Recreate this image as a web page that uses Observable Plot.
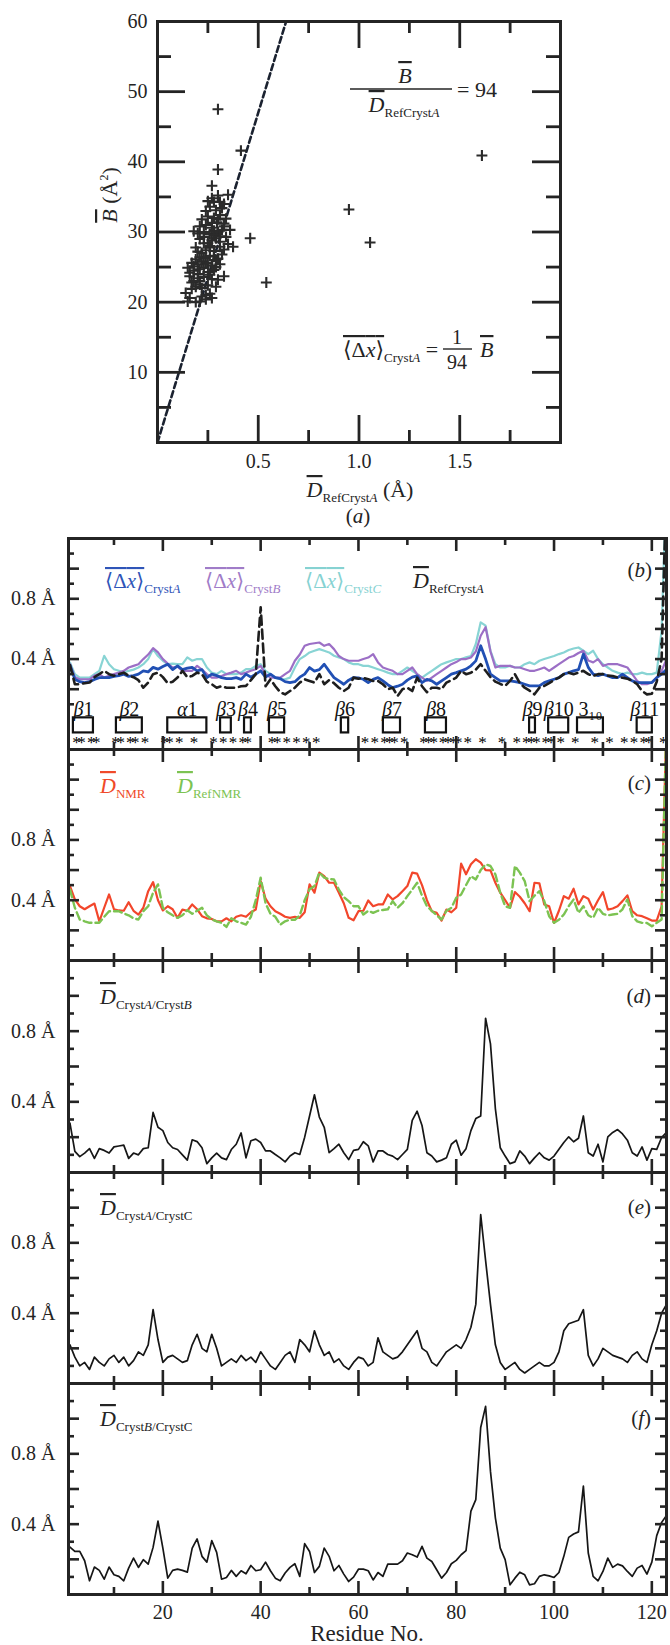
<!DOCTYPE html>
<html><head><meta charset="utf-8">
<script src="https://cdn.jsdelivr.net/npm/d3@7"></script>
<script src="https://cdn.jsdelivr.net/npm/@observablehq/plot@0.6"></script>
<style>
body{margin:0;background:#fff;}
#root{position:relative;width:670px;height:1645px;overflow:hidden;background:#fff;font-family:"Liberation Serif","DejaVu Serif",serif;}
#root svg, #root svg text{font-family:"Liberation Serif","DejaVu Serif",serif;}
</style>
</head><body><div id="root"></div>
<script>
// ---------------- DATA ----------------
// Panel (a): per-residue D_RefCrystA (Å) vs B (Å^2)
const dRefCrystA = [0.15,0.14,0.16,0.19,0.21,0.22,0.24,0.26,0.27,0.19,0.17,0.21,0.25,0.16,0.21,0.23,0.27,0.30,0.33,0.16,
0.18,0.20,0.23,0.25,0.28,0.18,0.20,0.22,0.24,0.25,0.27,0.29,0.31,0.15,0.17,0.19,0.21,0.23,0.26,0.28,
0.30,0.20,0.22,0.24,0.26,0.28,0.31,0.33,0.375,0.23,0.25,0.27,0.29,0.31,0.34,0.21,0.18,0.20,0.23,0.26,
0.28,0.30,0.32,0.36,0.21,0.24,0.27,0.295,0.33,0.22,0.25,0.28,0.31,0.34,0.26,0.29,0.32,0.24,0.28,0.31,
0.35,0.27,0.30,0.33,0.27,0.30,0.414,0.30,0.46,0.54,0.95,1.055,1.61,0.22,0.26,0.29,0.17,0.24,0.32,0.35,
0.19,0.23,0.27,0.30,0.25,0.29,0.21,0.26,0.28,0.33,0.20,0.18,0.31];
const bFactor = [20.1,21.3,20.6,20.0,20.1,20.8,21.0,21.2,20.6,22.2,22.8,22.5,22.4,23.7,23.0,23.6,23.3,23.2,23.7,24.2,
24.5,24.0,24.9,24.3,24.6,25.1,25.4,25.8,25.5,25.6,25.2,25.0,25.4,24.9,25.6,26.1,26.4,26.3,26.6,26.5,
26.2,27.2,27.0,27.4,27.8,27.3,27.9,27.5,27.9,28.4,28.4,28.8,29.1,28.6,29.3,29.0,30.1,29.8,30.0,29.7,
30.2,30.0,30.3,30.3,30.8,31.0,31.3,31.4,31.2,31.8,32.2,32.0,32.4,31.9,33.6,33.1,33.4,33.0,34.3,34.3,
35.3,34.8,35.2,34.0,36.6,38.9,41.6,47.5,29.1,22.8,33.2,28.5,40.9,22.0,23.9,22.2,21.9,20.4,26.8,28.3,
27.8,29.3,30.6,31.8,34.4,26.0,24.7,28.0,29.6,30.8,23.4,23.0,29.4];
const ratioBoverD = 94;

// Panels (b)-(f): residue numbers 1..123
const residues = d3.range(1, 124);

// (b)
const dxCrystA = [0.36,0.266,0.25,0.244,0.25,0.265,0.277,0.277,0.277,0.285,
0.29,0.30,0.285,0.29,0.30,0.322,0.315,0.345,0.333,0.35,
0.366,0.33,0.355,0.33,0.34,0.345,0.322,0.33,0.277,0.30,
0.29,0.277,0.27,0.27,0.277,0.265,0.30,0.28,0.30,0.322,
0.28,0.30,0.277,0.27,0.25,0.244,0.25,0.28,0.30,0.344,
0.32,0.33,0.366,0.32,0.277,0.255,0.233,0.26,0.277,0.275,
0.266,0.244,0.265,0.277,0.255,0.23,0.21,0.22,0.233,0.26,
0.28,0.288,0.244,0.265,0.255,0.233,0.255,0.277,0.30,0.31,
0.322,0.333,0.355,0.388,0.488,0.40,0.30,0.277,0.255,0.255,
0.255,0.25,0.244,0.233,0.222,0.222,0.222,0.244,0.255,0.266,
0.277,0.30,0.31,0.322,0.33,0.433,0.345,0.30,0.29,0.30,
0.288,0.277,0.277,0.30,0.277,0.255,0.244,0.244,0.244,0.244,
0.277,0.30,0.33];
const dxCrystB = [0.366,0.28,0.266,0.266,0.266,0.29,0.30,0.277,0.29,0.30,
0.31,0.322,0.344,0.355,0.366,0.40,0.43,0.473,0.444,0.40,
0.37,0.344,0.35,0.322,0.322,0.322,0.355,0.33,0.30,0.277,
0.277,0.288,0.30,0.31,0.322,0.30,0.31,0.322,0.333,0.355,
0.30,0.277,0.277,0.277,0.30,0.322,0.389,0.43,0.488,0.50,
0.505,0.51,0.488,0.50,0.466,0.42,0.40,0.389,0.389,0.389,
0.40,0.41,0.433,0.378,0.344,0.333,0.322,0.30,0.30,0.322,
0.344,0.30,0.277,0.255,0.277,0.30,0.322,0.344,0.366,0.38,
0.40,0.40,0.41,0.45,0.555,0.611,0.45,0.344,0.355,0.355,
0.355,0.344,0.344,0.333,0.322,0.322,0.333,0.344,0.322,0.344,
0.366,0.388,0.41,0.42,0.44,0.455,0.39,0.378,0.40,0.355,
0.366,0.366,0.366,0.355,0.344,0.30,0.255,0.233,0.233,0.244,
0.277,0.322,0.40];
const dxCrystC = [0.377,0.30,0.277,0.277,0.277,0.30,0.322,0.422,0.366,0.333,
0.322,0.31,0.322,0.33,0.344,0.366,0.40,0.466,0.42,0.389,
0.366,0.37,0.366,0.366,0.411,0.389,0.40,0.40,0.344,0.31,
0.30,0.322,0.30,0.30,0.30,0.31,0.333,0.333,0.355,0.366,
0.322,0.30,0.277,0.266,0.266,0.277,0.344,0.40,0.42,0.444,
0.455,0.466,0.455,0.444,0.422,0.41,0.40,0.378,0.366,0.366,
0.355,0.355,0.344,0.333,0.322,0.31,0.30,0.30,0.322,0.344,
0.322,0.30,0.277,0.30,0.322,0.344,0.366,0.378,0.389,0.40,
0.40,0.411,0.42,0.50,0.644,0.622,0.455,0.366,0.344,0.344,
0.355,0.344,0.344,0.366,0.378,0.366,0.389,0.40,0.41,0.42,
0.433,0.444,0.46,0.47,0.477,0.455,0.433,0.455,0.40,0.366,
0.344,0.322,0.31,0.30,0.31,0.30,0.30,0.31,0.30,0.30,
0.31,0.588,1.6];
const dRefCrystAres = [0.36,0.233,0.233,0.24,0.244,0.28,0.30,0.322,0.30,0.29,
0.30,0.31,0.29,0.28,0.26,0.21,0.244,0.30,0.31,0.28,
0.24,0.25,0.277,0.322,0.28,0.288,0.31,0.30,0.25,0.233,
0.21,0.22,0.21,0.21,0.21,0.22,0.222,0.26,0.30,0.744,
0.22,0.266,0.22,0.18,0.166,0.188,0.21,0.244,0.266,0.255,
0.244,0.30,0.233,0.26,0.24,0.21,0.188,0.21,0.277,0.27,
0.275,0.266,0.255,0.255,0.233,0.20,0.21,0.155,0.20,0.21,
0.188,0.277,0.22,0.18,0.21,0.21,0.20,0.244,0.26,0.277,
0.322,0.30,0.31,0.33,0.366,0.322,0.28,0.25,0.235,0.222,
0.255,0.30,0.24,0.21,0.19,0.166,0.21,0.222,0.24,0.26,
0.277,0.30,0.31,0.30,0.31,0.322,0.30,0.288,0.30,0.30,
0.29,0.288,0.277,0.277,0.27,0.255,0.233,0.188,0.166,0.17,
0.25,0.40,1.61];
// secondary structure (residue ranges) and asterisk-marked residues
const ssNames = ["β1","β2","α1","β3","β4","β5","β6","β7","β8","β9","β10","3₁₀","β11"];
const ssStart = [1.7,10.5,21,31.8,36.7,41.8,56.5,65.1,73.7,95,98.9,104.8,117];
const ssEnd   = [5.8,15.8,29,34,38.1,44.9,58,68.6,78,96.2,103,110.1,120.1];
const starResidues = [2,3,5,6,10,11,13,14,16,20,21,23,26,30,32,34,36,37,42,43,45,47,49,51,
61,63,65,66,67,69,73,74,75,77,78,79,80,82,85,89,92,94,95,96,98,99,101,104,108,111,114,116,118,119,122];

// (c)
const dNMR = [0.494,0.405,0.36,0.34,0.36,0.378,0.26,0.35,0.438,0.34,
0.332,0.33,0.387,0.33,0.305,0.35,0.46,0.52,0.40,0.332,
0.36,0.34,0.283,0.338,0.33,0.372,0.34,0.294,0.28,0.276,
0.26,0.26,0.28,0.26,0.29,0.30,0.29,0.32,0.338,0.527,
0.41,0.36,0.327,0.31,0.29,0.283,0.29,0.283,0.32,0.505,
0.45,0.583,0.56,0.516,0.516,0.45,0.38,0.283,0.267,0.327,
0.33,0.398,0.36,0.372,0.372,0.438,0.405,0.427,0.46,0.494,
0.583,0.576,0.50,0.40,0.327,0.316,0.265,0.338,0.32,0.35,
0.643,0.572,0.638,0.672,0.65,0.60,0.598,0.516,0.45,0.40,
0.35,0.454,0.423,0.38,0.327,0.516,0.512,0.372,0.36,0.249,
0.33,0.427,0.41,0.476,0.372,0.427,0.41,0.338,0.40,0.454,
0.338,0.345,0.36,0.394,0.432,0.327,0.30,0.294,0.28,0.265,
0.265,0.36,1.6];
const dRefNMR = [0.472,0.35,0.272,0.26,0.25,0.25,0.25,0.29,0.327,0.327,
0.327,0.312,0.30,0.28,0.272,0.327,0.36,0.45,0.505,0.35,
0.32,0.30,0.283,0.30,0.334,0.31,0.33,0.35,0.30,0.272,
0.26,0.25,0.223,0.28,0.26,0.25,0.238,0.29,0.40,0.55,
0.38,0.31,0.29,0.238,0.26,0.27,0.27,0.30,0.40,0.472,
0.494,0.583,0.55,0.54,0.538,0.47,0.42,0.394,0.36,0.36,
0.305,0.33,0.316,0.33,0.335,0.34,0.394,0.35,0.38,0.427,
0.47,0.516,0.43,0.36,0.33,0.30,0.272,0.33,0.35,0.416,
0.438,0.50,0.56,0.538,0.60,0.638,0.627,0.572,0.45,0.36,
0.35,0.627,0.583,0.527,0.394,0.43,0.46,0.394,0.294,0.25,
0.27,0.305,0.36,0.405,0.316,0.36,0.30,0.283,0.35,0.31,
0.30,0.305,0.31,0.34,0.405,0.294,0.26,0.25,0.249,0.227,
0.25,0.272,1.6];

// (d)
const dAB = [0.28,0.12,0.09,0.11,0.135,0.08,0.135,0.125,0.11,0.145,
0.15,0.155,0.08,0.11,0.10,0.135,0.14,0.34,0.256,0.237,
0.17,0.14,0.13,0.10,0.07,0.185,0.175,0.14,0.05,0.083,
0.11,0.083,0.073,0.13,0.16,0.224,0.083,0.18,0.189,0.17,
0.122,0.122,0.102,0.083,0.06,0.093,0.112,0.102,0.20,0.32,
0.44,0.314,0.256,0.112,0.135,0.16,0.112,0.073,0.125,0.131,
0.174,0.151,0.06,0.122,0.122,0.102,0.093,0.073,0.102,0.131,
0.295,0.347,0.266,0.112,0.093,0.06,0.07,0.083,0.16,0.183,
0.098,0.135,0.237,0.305,0.32,0.873,0.728,0.362,0.14,0.093,
0.05,0.06,0.122,0.093,0.05,0.083,0.112,0.083,0.07,0.093,
0.131,0.17,0.202,0.174,0.194,0.32,0.112,0.093,0.16,0.06,
0.202,0.227,0.243,0.218,0.183,0.112,0.093,0.145,0.07,0.135,
0.131,0.198,0.227];
// (e)
const dAC = [0.22,0.15,0.10,0.12,0.08,0.15,0.12,0.10,0.14,0.16,
0.12,0.15,0.10,0.13,0.18,0.16,0.22,0.42,0.25,0.12,
0.15,0.16,0.14,0.12,0.13,0.22,0.28,0.20,0.18,0.28,
0.20,0.10,0.12,0.14,0.12,0.16,0.13,0.15,0.12,0.18,
0.14,0.10,0.08,0.12,0.16,0.18,0.12,0.25,0.22,0.18,
0.30,0.22,0.16,0.18,0.12,0.14,0.10,0.08,0.12,0.15,
0.14,0.10,0.12,0.26,0.18,0.16,0.14,0.15,0.18,0.22,
0.26,0.30,0.20,0.18,0.12,0.10,0.14,0.18,0.20,0.22,
0.20,0.25,0.32,0.45,0.96,0.70,0.45,0.22,0.12,0.08,
0.10,0.12,0.08,0.06,0.08,0.10,0.12,0.10,0.10,0.12,
0.18,0.30,0.34,0.35,0.36,0.42,0.16,0.10,0.14,0.20,
0.18,0.16,0.15,0.14,0.12,0.16,0.18,0.14,0.12,0.22,
0.30,0.40,0.45];
// (f)
const dBC = [0.27,0.245,0.245,0.192,0.078,0.156,0.137,0.087,0.156,0.112,
0.103,0.078,0.15,0.207,0.154,0.198,0.173,0.268,0.417,0.264,
0.093,0.137,0.144,0.137,0.127,0.264,0.316,0.217,0.184,0.306,
0.24,0.087,0.097,0.137,0.103,0.135,0.118,0.165,0.135,0.141,
0.184,0.135,0.093,0.078,0.122,0.154,0.175,0.103,0.289,0.245,
0.125,0.16,0.264,0.217,0.135,0.165,0.116,0.074,0.099,0.144,
0.144,0.135,0.083,0.125,0.103,0.173,0.173,0.173,0.192,0.236,
0.226,0.213,0.274,0.207,0.188,0.141,0.093,0.125,0.175,0.194,
0.226,0.249,0.474,0.54,0.95,1.07,0.70,0.436,0.264,0.198,
0.055,0.093,0.127,0.112,0.055,0.061,0.103,0.112,0.106,0.097,
0.125,0.217,0.325,0.344,0.356,0.617,0.236,0.103,0.078,0.131,
0.207,0.154,0.173,0.163,0.131,0.103,0.15,0.165,0.116,0.184,
0.335,0.41,0.45];

// axis tick values
const aXLabels = [0.5, 1.0, 1.5], aXMinor = [0.25, 0.75, 1.25, 1.75];
const aYLabels = [10, 20, 30, 40, 50, 60], aYMajor = [10, 20, 30, 40, 50], aYMinor = [5, 15, 25, 35, 45, 55];
const xMajor = [20, 40, 60, 80, 100, 120], xMinor = [10, 30, 50, 70, 90, 110];
const yLabels = [0.4, 0.8];

// ---------------- DRAWING ----------------
const serif = "Liberation Serif, DejaVu Serif, serif";
const ink = "#242424";
const root = document.getElementById("root");
const C = {blue:"#2150b4", purple:"#9c6fc6", cyan:"#88d4d4", red:"#f2462b", green:"#7cc352",
           blueT:"#2f55b8", purpleT:"#a07cc8", cyanT:"#86d2d2", redT:"#f04a2a", greenT:"#7cc352"};

function mount(svg, top) {
  svg.style.position = "absolute";
  svg.style.left = "0px";
  svg.style.top = top + "px";
  svg.style.overflow = "visible";
  svg.style.background = "transparent";
  svg.style.fontFamily = serif;
  svg.style.fontSize = "20px";
  svg.style.color = ink;
  svg.style.maxWidth = "none";
  svg.setAttribute("font-family", serif);
  root.appendChild(svg);
}

// ---- Panel (a)
const aW = 670, aH = 530, aML = 157, aMR = 110, aMT = 21, aMB = 88;
const aPW = aW - aML - aMR, aPH = aH - aMT - aMB;
const scatter = dRefCrystA.map((x, i) => ({x, y: bFactor[i]}));
const fitLine = [0, 0.7].map(x => ({x, y: ratioBoverD * x}));
const tA = {stroke: ink, strokeWidth: 2.8};
const plotA = Plot.plot({
  width: aW, height: aH, marginLeft: aML, marginRight: aMR, marginTop: aMT, marginBottom: aMB,
  x: {domain: [0, 2]}, y: {domain: [0, 60]},
  marks: [
    Plot.line(fitLine, {x: "x", y: "y", stroke: "#1b2230", strokeWidth: 2.6, strokeDasharray: "6,3.5", clip: true}),
    Plot.dot(scatter, {x: "x", y: "y", symbol: "plus", r: 3.6, stroke: "#2b2b2b", strokeWidth: 2.1}),
    Plot.tickX(aXLabels, {x: Plot.identity, insetTop: aPH - 27, ...tA}),
    Plot.tickX(aXLabels, {x: Plot.identity, insetBottom: aPH - 27, ...tA}),
    Plot.tickX(aXMinor, {x: Plot.identity, insetTop: aPH - 12, ...tA}),
    Plot.tickX(aXMinor, {x: Plot.identity, insetBottom: aPH - 12, ...tA}),
    Plot.tickY(aYMajor, {y: Plot.identity, insetRight: aPW - 28, ...tA}),
    Plot.tickY(aYMajor, {y: Plot.identity, insetLeft: aPW - 28, ...tA}),
    Plot.tickY(aYMinor, {y: Plot.identity, insetRight: aPW - 14, ...tA}),
    Plot.tickY(aYMinor, {y: Plot.identity, insetLeft: aPW - 14, ...tA}),
    Plot.axisY({ticks: aYLabels, tickSize: 0, tickPadding: 10, fontSize: 20, label: null}),
    Plot.axisX({ticks: aXLabels, tickSize: 0, tickPadding: 11, fontSize: 20, label: null, tickFormat: d => d.toFixed(1)}),
    Plot.frame({stroke: ink, strokeWidth: 3})
  ]
});
mount(plotA, 0);

// ---- Panels (b)-(f)
const PML = 68, PMR = 4, X0 = 0.7, X1 = 123;
const PW = 670 - PML - PMR;
function panelTicks(yMaj, yMin, PH) {
  const o = {stroke: ink, strokeWidth: 2.6};
  return [
    Plot.tickX(xMajor, {x: Plot.identity, insetTop: PH - 13, ...o}),
    Plot.tickX(xMajor, {x: Plot.identity, insetBottom: PH - 13, ...o}),
    Plot.tickX(xMinor, {x: Plot.identity, insetTop: PH - 7, ...o}),
    Plot.tickX(xMinor, {x: Plot.identity, insetBottom: PH - 7, ...o}),
    Plot.tickY(yMaj, {y: Plot.identity, insetRight: PW - 11, ...o}),
    Plot.tickY(yMaj, {y: Plot.identity, insetLeft: PW - 11, ...o}),
    Plot.tickY(yMin, {y: Plot.identity, insetRight: PW - 6, ...o}),
    Plot.tickY(yMin, {y: Plot.identity, insetLeft: PW - 6, ...o})
  ];
}
const rows = vals => residues.map((r, i) => ({r, v: vals[i]}));
const sLine = (vals, o) => Plot.line(rows(vals), {x: "r", y: "v", clip: true, ...o});

function panelPlot({H, yDomain, yMaj, yMin, marks, bottom = 0, xAxis = false}) {
  return Plot.plot({
    width: 670, height: H + bottom, marginLeft: PML, marginRight: PMR, marginTop: 0, marginBottom: bottom,
    x: xAxis ? {domain: [X0, X1]} : {domain: [X0, X1], axis: null},
    y: {domain: yDomain},
    marks: [
      ...marks,
      ...panelTicks(yMaj, yMin, H),
      Plot.axisY({ticks: yLabels, tickSize: 0, tickPadding: 13, fontSize: 20, label: null, tickFormat: d => d.toFixed(1) + " Å"}),
      ...(xAxis ? [Plot.axisX({ticks: xMajor, tickSize: 0, tickPadding: 10, fontSize: 20, label: null})] : []),
      Plot.frame({stroke: ink, strokeWidth: 3})
    ]
  });
}

const ss = ssNames.map((name, i) => ({name, s: ssStart[i], e: ssEnd[i]}));
// consecutive starred residues are written as one run of asterisks
const starRuns = [];
for (const r of starResidues) {
  const last = starRuns[starRuns.length - 1];
  if (last && r === last.end + 1) last.end = r; else starRuns.push({start: r, end: r});
}
const plotB = panelPlot({
  H: 211, yDomain: [-0.2, 1.2], yMaj: [0.2, 0.4, 0.6, 0.8, 1.0], yMin: [0.1, 0.3, 0.5, 0.7, 0.9, 1.1],
  marks: [
    sLine(dxCrystC, {stroke: C.cyan, strokeWidth: 2.2}),
    sLine(dxCrystB, {stroke: C.purple, strokeWidth: 2.2}),
    sLine(dxCrystA, {stroke: C.blue, strokeWidth: 2.8}),
    sLine(dRefCrystAres, {stroke: "#1e1e1e", strokeWidth: 2.6, strokeDasharray: "9,5"}),
    Plot.rect(ss, {x1: "s", x2: "e", y1: () => -0.09, y2: () => 0.01, fill: "none", stroke: "#111", strokeWidth: 2.2}),
    Plot.text(ss, {x: d => (d.s + d.e) / 2, y: () => 0.02, text: "name", lineAnchor: "bottom", fontSize: 20, fill: "#111"}),
    Plot.text(starRuns, {x: d => (d.start + d.end) / 2, y: () => -0.155, text: d => "*".repeat(d.end - d.start + 1), fontSize: 17, fill: "#000"})
  ]
});
d3.select(plotB).selectAll("text").filter(function () { return /^\*+$/.test(this.textContent); })
  .attr("letter-spacing", "-3.4px");
// Greek letter of each secondary-structure label in italic, number upright
d3.select(plotB).selectAll("text").filter(function () { return /^[βα]\d+$/.test(this.textContent); })
  .each(function () {
    const s = this.textContent, el = d3.select(this);
    el.text(null);
    el.append("tspan").attr("font-style", "italic").text(s[0]);
    el.append("tspan").text(s.slice(1));
  });
mount(plotB, 538);

const plotC = panelPlot({
  H: 211, yDomain: [0, 1.4], yMaj: [0.2, 0.4, 0.6, 0.8, 1.0, 1.2], yMin: [0.1, 0.3, 0.5, 0.7, 0.9, 1.1, 1.3],
  marks: [
    sLine(dNMR, {stroke: C.red, strokeWidth: 2.2}),
    sLine(dRefNMR, {stroke: C.green, strokeWidth: 2.4, strokeDasharray: "8,4"})
  ]
});
mount(plotC, 749);

const yMaj12 = [0.2, 0.4, 0.6, 0.8, 1.0], yMin12 = [0.1, 0.3, 0.5, 0.7, 0.9, 1.1];
const plotD = panelPlot({H: 212, yDomain: [0, 1.2], yMaj: yMaj12, yMin: yMin12,
  marks: [sLine(dAB, {stroke: "#161616", strokeWidth: 1.7})]});
mount(plotD, 960);
const plotE = panelPlot({H: 211, yDomain: [0, 1.2], yMaj: yMaj12, yMin: yMin12,
  marks: [sLine(dAC, {stroke: "#161616", strokeWidth: 1.7})]});
mount(plotE, 1172);
const plotF = panelPlot({H: 211, yDomain: [0, 1.2], yMaj: yMaj12, yMin: yMin12, bottom: 51, xAxis: true,
  marks: [sLine(dBC, {stroke: "#161616", strokeWidth: 1.7})]});
mount(plotF, 1383);

// ---------------- TEXT OVERLAY (math labels, legends) ----------------
const ov = d3.select(root).append("svg")
  .attr("width", 670).attr("height", 1645).attr("font-family", serif)
  .style("position", "absolute").style("left", "0px").style("top", "0px")
  .style("overflow", "visible").style("pointer-events", "none");

function mt(x, y, parts, {size = 22, color = ink, anchor = "start", rotate = null, subSize = 13, subShift = 5} = {}) {
  const t = ov.append("text").attr("x", x).attr("y", y).attr("fill", color)
    .style("font-family", serif).attr("font-size", size).attr("text-anchor", anchor);
  if (rotate != null) t.attr("transform", `rotate(${rotate},${x},${y})`);
  let shift = 0;
  for (const p of parts) {
    const s = t.append("tspan").text(p.t);
    if (p.it) s.attr("font-style", "italic");
    if (p.ol) s.style("text-decoration", "overline");
    const target = p.sub ? subShift : (p.sup ? -9 : 0);
    if (target !== shift) { s.attr("dy", target - shift); shift = target; }
    if (p.sub || p.sup) s.attr("font-size", p.size || subSize);
    else if (p.size) s.attr("font-size", p.size);
  }
  return t;
}
function hbar(x1, x2, y) {
  ov.append("line").attr("x1", x1).attr("x2", x2).attr("y1", y).attr("y2", y)
    .attr("stroke", ink).attr("stroke-width", 1.4);
}
const Dbar = {t: "D", it: 1, ol: 1};
const dxParts = [{t: "⟨Δ", ol: 1}, {t: "x", it: 1, ol: 1}, {t: "⟩", ol: 1}];

// panel (a)
mt(360, 497, [Dbar, {t: "RefCryst", sub: 1}, {t: "A", sub: 1, it: 1}, {t: " (Å)"}], {anchor: "middle"});
mt(358, 523, [{t: "("}, {t: "a", it: 1}, {t: ")"}], {size: 21, anchor: "middle"});
mt(117, 195, [{t: "B", it: 1, ol: 1}, {t: " (Å"}, {t: "2", sup: 1, size: 12}, {t: ")"}], {anchor: "middle", rotate: -90});
mt(405, 83, [{t: "B", it: 1, ol: 1}], {anchor: "middle"});
hbar(350, 452, 89);
mt(404, 112, [Dbar, {t: "RefCryst", sub: 1}, {t: "A", sub: 1, it: 1}], {anchor: "middle"});
mt(457, 97, [{t: "= 94"}]);
mt(343, 357, [...dxParts, {t: "Cryst", sub: 1}, {t: "A", sub: 1, it: 1}, {t: " ="}]);
mt(457, 344, [{t: "1"}], {size: 20, anchor: "middle"});
hbar(443, 472, 349);
mt(457, 369, [{t: "94"}], {size: 20, anchor: "middle"});
mt(480, 357, [{t: "B", it: 1, ol: 1}]);

// panel (b) legend
mt(105, 588, [...dxParts, {t: "Cryst", sub: 1}, {t: "A", sub: 1, it: 1}], {size: 21, color: C.blueT});
mt(205, 588, [...dxParts, {t: "Cryst", sub: 1}, {t: "B", sub: 1, it: 1}], {size: 21, color: C.purpleT});
mt(305, 588, [...dxParts, {t: "Cryst", sub: 1}, {t: "C", sub: 1, it: 1}], {size: 21, color: C.cyanT});
mt(413, 588, [Dbar, {t: "RefCryst", sub: 1}, {t: "A", sub: 1, it: 1}], {size: 22});
mt(652, 577, [{t: "("}, {t: "b", it: 1}, {t: ")"}], {size: 21, anchor: "end"});
// panel (c)
mt(100, 793, [Dbar, {t: "NMR", sub: 1}], {color: C.redT});
mt(177, 793, [Dbar, {t: "RefNMR", sub: 1}], {color: C.greenT});
mt(651, 790, [{t: "("}, {t: "c", it: 1}, {t: ")"}], {size: 21, anchor: "end"});
// panel (d)
mt(100, 1004, [Dbar, {t: "Cryst", sub: 1}, {t: "A", sub: 1, it: 1}, {t: "/Cryst", sub: 1}, {t: "B", sub: 1, it: 1}]);
mt(651, 1003, [{t: "("}, {t: "d", it: 1}, {t: ")"}], {size: 21, anchor: "end"});
// panel (e)
mt(100, 1215, [Dbar, {t: "Cryst", sub: 1}, {t: "A", sub: 1, it: 1}, {t: "/Cryst", sub: 1}, {t: "C", sub: 1}]);
mt(651, 1214, [{t: "("}, {t: "e", it: 1}, {t: ")"}], {size: 21, anchor: "end"});
// panel (f)
mt(100, 1426, [Dbar, {t: "Cryst", sub: 1}, {t: "B", sub: 1, it: 1}, {t: "/Cryst", sub: 1}, {t: "C", sub: 1}]);
mt(651, 1425, [{t: "("}, {t: "f", it: 1}, {t: ")"}], {size: 21, anchor: "end"});
// x-axis title
mt(367, 1641, [{t: "Residue No."}], {size: 23, anchor: "middle"});
</script>
</body></html>
